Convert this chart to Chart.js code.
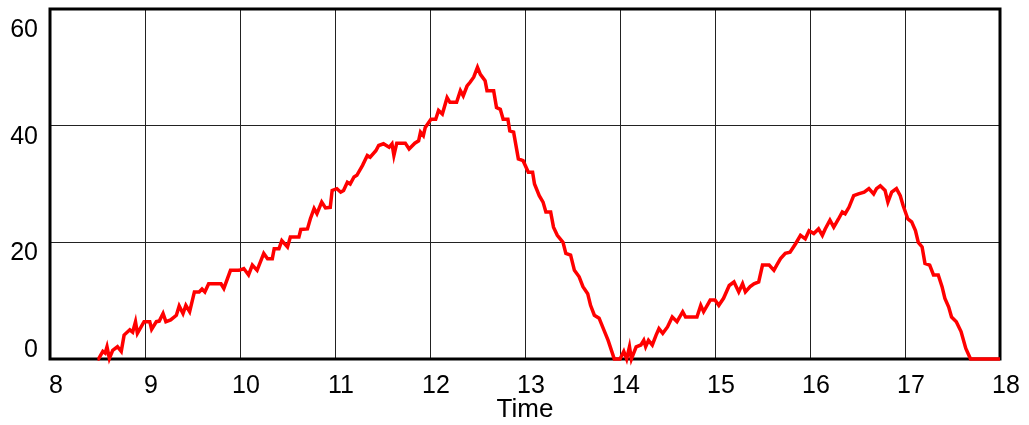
<!DOCTYPE html>
<html>
<head>
<meta charset="utf-8">
<script src="https://cdn.jsdelivr.net/npm/chart.js@4/dist/chart.umd.min.js"></script>
<style>
  html, body { margin: 0; padding: 0; background: #fff; }
  canvas { display: block; }
</style>
</head>
<body>
<canvas id="myChart" width="1029" height="425"></canvas>
<script>
// time points and values
const times = [
  8.50, 8.51, 8.556, 8.58, 8.60, 8.625, 8.66, 8.71, 8.75, 8.78, 8.84, 8.87, 8.90, 8.92, 8.99,
  9.05, 9.07, 9.12, 9.15, 9.19, 9.22, 9.27, 9.33, 9.36, 9.40, 9.43, 9.47, 9.52, 9.57, 9.60,
  9.63, 9.67, 9.80, 9.83, 9.90, 9.99, 10.04, 10.09, 10.13, 10.18, 10.25, 10.29, 10.34, 10.36,
  10.41, 10.44, 10.50, 10.53, 10.62, 10.64, 10.71, 10.74, 10.78, 10.81, 10.86, 10.90, 10.95,
  10.97, 11.02, 11.06, 11.09, 11.13, 11.16, 11.20, 11.23, 11.29, 11.34, 11.37, 11.43, 11.46,
  11.51, 11.57, 11.60, 11.62, 11.65, 11.74, 11.78, 11.84, 11.88, 11.90, 11.93, 11.95, 12.01,
  12.06, 12.09, 12.13, 12.18, 12.21, 12.28, 12.32, 12.35, 12.39, 12.42, 12.46, 12.50, 12.53,
  12.58, 12.60, 12.67, 12.70, 12.74, 12.77, 12.82, 12.84, 12.88, 12.93, 12.98,
  13.035, 13.08, 13.10, 13.15, 13.19, 13.22, 13.27, 13.30, 13.34, 13.40, 13.43, 13.48, 13.52,
  13.57, 13.61, 13.66, 13.69, 13.73, 13.78, 13.83, 13.875, 13.94, 14.00, 14.04, 14.07, 14.10,
  14.12, 14.17, 14.22, 14.25, 14.27, 14.30, 14.34, 14.38, 14.41, 14.45, 14.50, 14.55, 14.60,
  14.66, 14.69, 14.81, 14.85, 14.88, 14.95, 15.00, 15.04, 15.09, 15.15, 15.20, 15.25, 15.29,
  15.32, 15.37, 15.41, 15.46, 15.50, 15.57, 15.62, 15.65, 15.69, 15.74, 15.79, 15.85, 15.90,
  15.95, 15.99, 16.04, 16.09, 16.13, 16.16, 16.21, 16.25, 16.30, 16.34, 16.37, 16.41, 16.46,
  16.51, 16.57, 16.62, 16.67, 16.70, 16.74, 16.79, 16.82, 16.86, 16.91, 16.95, 16.98, 17.03,
  17.07, 17.11, 17.14, 17.18, 17.21, 17.26, 17.30, 17.35, 17.39, 17.42, 17.46, 17.49, 17.54,
  17.59, 17.64, 17.69, 18.00
];
const values = [
  0, 0, 1.3, 1.0, 2.1, 0.1, 1.5, 2.1, 1.3, 4.1, 5.0, 4.6, 6.4, 4.4, 6.4,
  6.4, 5.1, 6.4, 6.5, 7.8, 6.4, 6.7, 7.5, 9.1, 7.8, 9.2, 8.1, 11.5, 11.5, 12.0,
  11.5, 12.9, 12.9, 12.1, 15.2, 15.2, 15.5, 14.4, 16.1, 15.2, 18.1, 17.2, 17.2, 18.9,
  18.9, 20.3, 19.2, 20.9, 20.9, 22.2, 22.3, 24.0, 25.8, 24.9, 26.9, 25.9, 26.0,
  28.9, 29.2, 28.6, 28.9, 30.3, 30.0, 31.2, 31.5, 33.2, 34.9, 34.6, 35.7, 36.6,
  36.9, 36.3, 36.9, 34.9, 37.0, 37.0, 36.0, 37.0, 37.4, 38.9, 38.3, 39.7, 41.1,
  41.1, 42.6, 42.0, 44.8, 44.0, 44.0, 46.0, 45.1, 46.8, 47.4, 48.3, 50.0, 48.8,
  47.7, 46.0, 46.0, 43.1, 42.8, 41.1, 41.1, 39.1, 38.9, 34.3, 34.0,
  32.0, 32.0, 30.0, 28.0, 26.9, 25.2, 25.2, 22.6, 21.2, 20.0, 18.1, 17.8, 15.2,
  14.1, 12.4, 11.2, 9.2, 7.5, 7.0, 5.0, 3.2, 0, 0, 1.3, 0, 2.1,
  0, 2.1, 2.4, 3.2, 2.1, 3.2, 2.4, 4.1, 5.2, 4.4, 5.5, 7.2, 6.4,
  8.1, 7.2, 7.2, 9.2, 8.1, 10.1, 10.1, 9.2, 10.4, 12.6, 13.2, 11.5, 12.9,
  11.5, 12.4, 12.9, 13.2, 16.1, 16.1, 15.2, 16.1, 17.2, 18.1, 18.3, 19.8, 21.2,
  20.6, 22.0, 21.5, 22.3, 21.2, 22.3, 23.8, 22.6, 24.0, 25.2, 24.9, 26.0, 28.0,
  28.3, 28.6, 29.2, 28.3, 29.2, 29.7, 28.9, 26.9, 28.6, 29.2, 28.0, 26.3, 24.0,
  23.5, 22.0, 20.0, 19.2, 16.4, 16.1, 14.4, 14.4, 12.4, 10.4, 8.9, 7.2, 6.4,
  4.7, 1.8, 0, 0
];
const yTicks = [0, 20, 40, 60];

window.onload = function () {
    const ctx = document.getElementById('myChart').getContext('2d');
    const fontFamily = '"Liberation Sans", Arial, sans-serif';

    const points = times.map((t, i) => ({ x: t, y: values[i] }));

    // frame round the plot area, drawn under the line
    const framePlugin = {
        id: 'frame',
        beforeDatasetsDraw(chart) {
            const a = chart.chartArea;
            const c = chart.ctx;
            c.save();
            c.strokeStyle = '#000';
            c.lineWidth = 3;
            c.strokeRect(a.left, a.top, a.right - a.left, a.bottom - a.top);
            c.restore();
        }
    };

    // y labels sit a bit off their grid lines in the original
    const yLabelPlugin = {
        id: 'yLabels',
        afterDraw(chart) {
            const y = chart.scales.y;
            const c = chart.ctx;
            c.save();
            c.font = '25px ' + fontFamily;
            c.fillStyle = '#000';
            c.textAlign = 'right';
            c.textBaseline = 'middle';
            yTicks.forEach(v => {
                const off = v === 0 ? -9 : (v === 60 ? 21 : 11);
                c.fillText(String(v), 38, y.getPixelForValue(v) + off);
            });
            c.restore();
        }
    };

    const myChart = new Chart(ctx, {
        type: 'line',
        data: {
            datasets: [{
                data: points,
                borderColor: '#ff0000',
                borderWidth: 3.5,
                pointRadius: 0,
                tension: 0,
                fill: false,
                clip: false
            }]
        },
        options: {
            responsive: false,
            animation: false,
            layout: { padding: { top: 9, right: 29, left: 0, bottom: 0 } },
            plugins: {
                legend: { display: false },
                tooltip: { enabled: false }
            },
            scales: {
                x: {
                    type: 'linear',
                    min: 8,
                    max: 18,
                    afterFit(scale) { scale.height = 66; },
                    border: { display: false },
                    grid: { color: '#222', lineWidth: 1, drawTicks: false },
                    ticks: {
                        stepSize: 1,
                        padding: 12,
                        labelOffset: 6,
                        color: '#000',
                        font: { size: 25, family: fontFamily }
                    },
                    title: {
                        display: true,
                        text: 'Time',
                        color: '#000',
                        padding: { top: 0, bottom: 0 },
                        font: { size: 26, family: fontFamily }
                    }
                },
                y: {
                    min: 0,
                    max: 60,
                    afterFit(scale) { scale.width = 50; },
                    border: { display: false },
                    grid: { color: '#222', lineWidth: 1, drawTicks: false },
                    ticks: { stepSize: 20, display: false }
                }
            }
        },
        plugins: [framePlugin, yLabelPlugin]
    });
};
</script>
</body>
</html>
